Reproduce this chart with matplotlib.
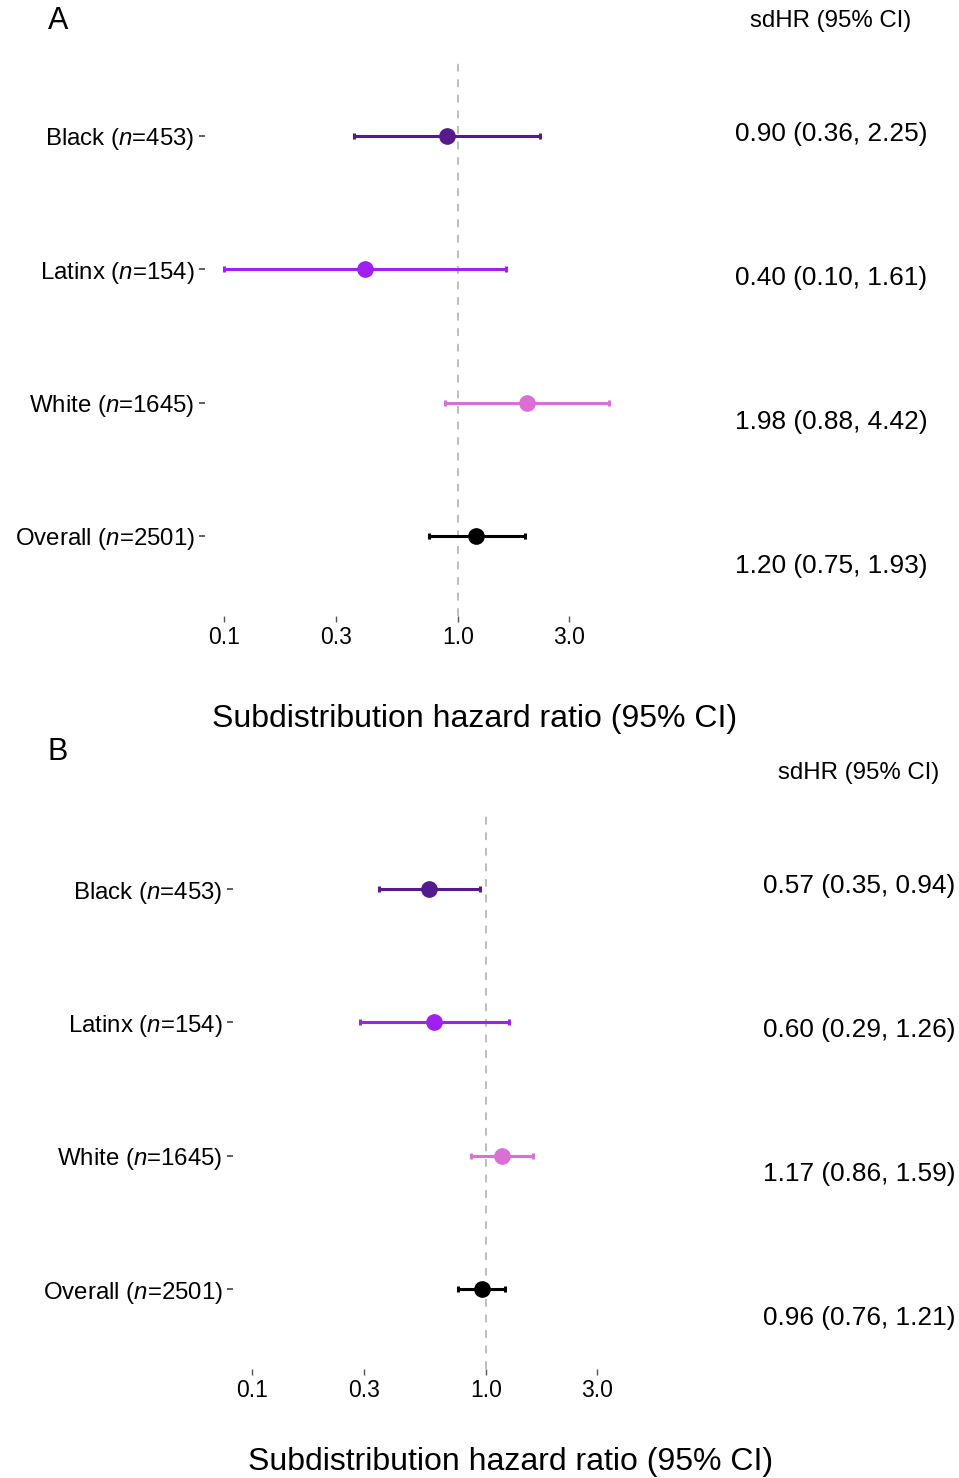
import matplotlib
matplotlib.use("Agg")
import matplotlib.pyplot as plt
import numpy as np

plt.rcParams['font.family'] = ['Liberation Sans', 'DejaVu Sans']
plt.rcParams['mathtext.fontset'] = 'custom'
plt.rcParams['mathtext.it'] = 'Liberation Sans:italic'
plt.rcParams['mathtext.rm'] = 'Liberation Sans'

groups = ["Black", "Latinx", "White", "Overall"]
group_n = [453, 154, 1645, 2501]
colors = ["#551A8B", "#A020F0", "#DA70D6", "#000000"]

hr_a = [0.90, 0.40, 1.98, 1.20]
lo_a = [0.36, 0.10, 0.88, 0.75]
hi_a = [2.25, 1.61, 4.42, 1.93]

hr_b = [0.57, 0.60, 1.17, 0.96]
lo_b = [0.35, 0.29, 0.86, 0.76]
hi_b = [0.94, 1.26, 1.59, 1.21]

xticks = [0.1, 0.3, 1.0, 3.0]
xtick_labels = ["0.1", "0.3", "1.0", "3.0"]

W, H = 959, 1478
fig = plt.figure(figsize=(W / 100, H / 100), dpi=100)


def px_axes(x0, y0, x1, y1):
    return fig.add_axes([x0 / W, 1 - y1 / H, (x1 - x0) / W, (y1 - y0) / H])


def panel(ax, hr, lo, hi, xoff, yoff, letter, letter_y, xlab_x, xlab_y):
    ypos = np.arange(len(groups))[::-1]
    ax.axvline(1.0, color="#BEBEBE", lw=1.4, ls=(0, (4, 4)), zorder=1)
    for i in range(len(groups)):
        ax.errorbar(hr[i], ypos[i], xerr=[[hr[i] - lo[i]], [hi[i] - hr[i]]],
                    fmt="o", color=colors[i], ms=11, elinewidth=2.2,
                    capsize=2.5, capthick=2.2, zorder=3)
    ax.set_xscale("log")
    ax.set_xlim(10 ** -1.082, 10 ** 0.728)
    ax.set_ylim(-0.6, len(groups) - 0.4)
    ax.set_xticks(xticks)
    ax.set_xticklabels(xtick_labels)
    ax.xaxis.set_minor_locator(matplotlib.ticker.NullLocator())
    ax.set_yticks(ypos)
    ax.set_yticklabels([f"{g} ($\\mathit{{n}}$={n})" for g, n in zip(groups, group_n)])
    for s in ax.spines.values():
        s.set_visible(False)
    ax.tick_params(axis="x", length=4, width=1, color="#555555", pad=3,
                   labelsize=16.5, labelcolor="black")
    ax.tick_params(axis="y", length=4.5, width=1.2, color="#444444", pad=3,
                   labelsize=17.3, labelcolor="black")
    fig.text(xlab_x / W, 1 - xlab_y / H, "Subdistribution hazard ratio (95% CI)",
             fontsize=23, ha="center", va="center")
    fig.text(58 / W, 1 - letter_y / H, letter, fontsize=22, ha="center", va="center")
    tx = 831 + xoff
    fig.text(tx / W, 1 - (yoff + 21) / H, "sdHR (95% CI)", fontsize=17.3,
             ha="center", va="center")
    for k in range(len(groups)):
        fig.text(tx / W, 1 - (yoff + 134 + 144 * k) / H,
                 f"{hr[k]:.2f} ({lo[k]:.2f}, {hi[k]:.2f})",
                 fontsize=18.9, ha="center", va="center")


axA = px_axes(205, 56, 628, 616)
panel(axA, hr_a, lo_a, hi_a, 0, 0, "A", 21, 475, 719)
axB = px_axes(233, 809, 656, 1369)
panel(axB, hr_b, lo_b, hi_b, 28, 752, "B", 752, 511, 1462)

fig.savefig("out.png", dpi=100, facecolor="white")
